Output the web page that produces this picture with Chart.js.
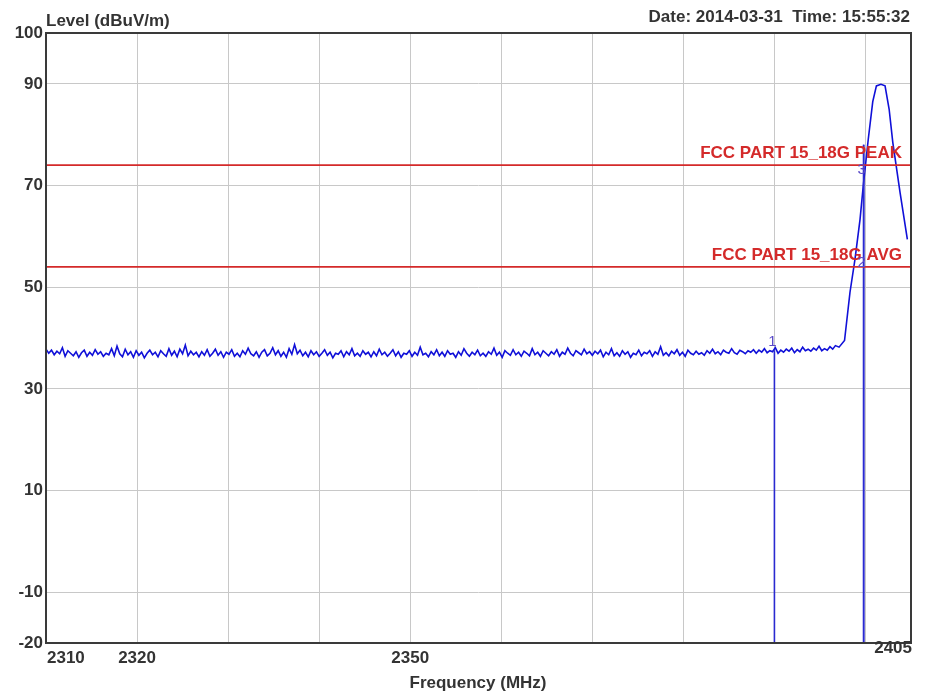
<!DOCTYPE html>
<html>
<head>
<meta charset="utf-8">
<title>Level vs Frequency</title>
<script src="https://cdn.jsdelivr.net/npm/chart.js@4.4.1/dist/chart.umd.min.js"></script>
<style>
  html, body { margin: 0; padding: 0; background: #fff; }
  #wrap { position: relative; width: 932px; height: 697px; }
</style>
</head>
<body>
<div id="wrap"><canvas id="chart"></canvas></div>
<script>
// Sweep: noise floor sampled every 0.3 MHz from 2310 MHz.
const sweepStart = 2310;
const sweepStep = 0.3;
const floorLevels = [
  37.8, 37.0, 37.6, 36.7, 37.4, 36.9, 38.1, 36.4, 37.5, 37.0, 36.5, 37.3, 36.2, 37.1, 37.6, 36.4, 37.2, 36.6, 37.7, 36.8,
  37.3, 36.4, 37.0, 36.7, 37.9, 36.5, 38.4, 36.9, 36.3, 37.8, 36.7, 37.3, 36.2, 37.5, 36.6, 37.2, 36.1, 37.0, 37.6, 36.7,
  37.2, 36.3, 37.5, 36.9, 36.4, 37.9, 36.6, 37.4, 36.3, 37.8, 36.9, 38.6, 36.5, 37.4, 36.7, 37.2, 36.3, 37.3, 36.6, 37.7,
  36.4, 37.0, 37.8, 36.6, 37.3, 36.2, 37.2, 36.8, 37.7, 36.4, 37.0, 36.3, 37.5, 36.8, 38.0, 36.9, 36.5, 37.3, 36.2, 37.2,
  37.7, 36.5, 37.0, 38.1, 36.7, 37.5, 36.4, 37.2, 36.2, 37.9, 36.8, 38.7, 36.9, 37.6, 36.5, 37.2, 36.3, 37.5, 36.7, 37.3,
  36.4, 37.0, 37.7, 36.6, 37.2, 36.1, 37.0, 36.8, 37.5, 36.3, 37.3, 36.7, 37.9, 36.5, 37.0, 36.4, 37.5, 36.8, 37.2, 36.3,
  37.3, 36.5, 37.8, 36.7, 37.2, 36.4, 37.0, 37.7, 36.5, 37.3, 36.2, 37.0, 36.8, 37.5, 36.4, 37.2, 36.6, 38.2, 36.7, 37.0,
  36.3, 37.3, 36.7, 37.7, 36.5, 37.2, 36.4, 37.5, 36.8, 37.0, 36.2, 37.3, 36.6, 37.9, 37.0, 36.4, 37.2, 36.7, 37.6, 36.5,
  37.0, 36.4, 37.3, 36.8, 38.0, 36.6, 37.2, 36.2, 37.5, 37.0, 36.6, 37.7, 36.7, 37.2, 36.4, 37.4, 37.0, 36.5, 37.9, 36.7,
  37.2, 36.4, 37.5, 37.0, 36.5, 37.3, 36.8, 37.7, 36.4, 37.2, 36.8, 38.0, 37.0, 36.5, 37.5, 37.1, 36.7, 37.8, 36.9, 37.3,
  36.6, 37.4, 36.9, 37.6, 36.3, 37.2, 36.7, 37.9, 36.5, 37.1, 36.4, 37.5, 36.8, 37.3, 36.2, 37.0, 36.7, 37.6, 36.5, 37.2,
  36.9, 37.5, 36.4, 37.3, 36.8, 38.3, 36.6, 37.1, 36.5, 37.4, 36.9, 37.7, 36.6, 37.2, 36.4, 37.6, 37.0, 36.7, 37.4, 36.8,
  37.1, 36.6, 37.5, 37.0, 37.8, 36.9, 37.3, 36.7, 37.6, 37.2, 37.0, 37.9, 37.1, 36.8, 37.6, 37.3, 36.9, 37.5, 37.2, 37.7,
  37.0, 37.6, 37.2, 37.9, 37.1, 37.5, 37.3, 38.1, 37.0, 37.6, 37.2, 37.8, 37.4, 38.0, 37.1, 37.7, 37.3, 38.2, 37.5, 37.8,
  37.4, 38.0, 37.6, 38.4, 37.5, 37.9, 37.6, 38.3, 37.8, 38.5,
];

// Carrier edge and peak near 2402 MHz.
const peakFreqs  = [2397.1, 2397.7, 2398.3, 2398.85, 2399.4, 2399.75, 2400.3, 2400.8, 2401.2, 2401.7, 2402.15, 2402.6, 2403.0, 2403.8, 2404.6];
const peakLevels = [38.2,   39.5,   49.0,   55.5,    63.3,   69.8,    79.0,   86.5,   89.6,   89.9,   89.6,    85.0,   78.5,   68.6,   59.4];

// FCC Part 15 limits (dBuV/m).
const limitNames  = ['FCC PART 15_18G PEAK', 'FCC PART 15_18G AVG'];
const limitLevels = [74, 54];

// Markers: frequency, label level, top of the marker line.
const markerNames  = ['1', '2', '3'];
const markerFreqs  = [2390, 2399.8, 2399.8];
const markerLevels = [37.6, 53.2, 71.5];
const markerTops   = [37.6, 78, 78];

const xGridTicks  = [2310, 2320, 2330, 2340, 2350, 2360, 2370, 2380, 2390, 2400, 2405];
const xLabelTicks = [2310, 2320, 2350, 2405];
const yTicks      = [-20, -10, 10, 30, 50, 70, 90, 100];

const FONT = '"Liberation Sans", Arial, sans-serif';
const TEXT = '#333333';
const TRACE = '#1010d8';
const LIMIT = '#d42a2a';

const tracePoints = floorLevels.map((v, i) => ({ x: sweepStart + i * sweepStep, y: v }))
  .concat(peakFreqs.map((f, i) => ({ x: f, y: peakLevels[i] })));

const datasets = [];
limitLevels.forEach((lv) => {
  datasets.push({
    data: [{ x: 2310, y: lv }, { x: 2405, y: lv }],
    borderColor: LIMIT, borderWidth: 1.6, pointRadius: 0,
  });
});
markerFreqs.forEach((f, i) => {
  datasets.push({
    data: [{ x: f, y: -20 }, { x: f, y: markerTops[i] }],
    borderColor: '#2a2ad0', borderWidth: 1.6, pointRadius: 0,
  });
});
datasets.push({
  data: tracePoints,
  borderColor: TRACE, borderWidth: 1.6, pointRadius: 0, tension: 0,
});

// Frame, header texts, x labels, limit captions and marker numbers.
const annotate = {
  id: 'annotate',
  afterDraw(chart) {
    const { ctx, chartArea: a, scales: { x, y } } = chart;
    ctx.save();
    ctx.strokeStyle = '#3a3a3a';
    ctx.lineWidth = 2;
    ctx.strokeRect(a.left, a.top, a.right - a.left, a.bottom - a.top);

    ctx.fillStyle = TEXT;
    ctx.font = 'bold 17px ' + FONT;
    ctx.textBaseline = 'middle';
    ctx.textAlign = 'left';
    ctx.fillText('Level (dBuV/m)', a.left, 21);
    ctx.textAlign = 'right';
    ctx.fillText('Date: 2014-03-31  Time: 15:55:32', 910, 17);

    xLabelTicks.forEach((v, i) => {
      const px = x.getPixelForValue(v);
      if (i === 0) { ctx.textAlign = 'left'; ctx.fillText(String(v), px + 1, 658); }
      else if (i === xLabelTicks.length - 1) { ctx.textAlign = 'right'; ctx.fillText(String(v), px + 1, 648); }
      else { ctx.textAlign = 'center'; ctx.fillText(String(v), px, 658); }
    });
    ctx.textAlign = 'center';
    ctx.fillText('Frequency (MHz)', 478, 683);

    ctx.fillStyle = LIMIT;
    ctx.font = 'bold 17px ' + FONT;
    ctx.textAlign = 'right';
    ctx.textBaseline = 'alphabetic';
    limitNames.forEach((n, i) => {
      ctx.fillText(n, 902, y.getPixelForValue(limitLevels[i]) - 7);
    });

    ctx.fillStyle = '#5a4ac8';
    ctx.font = '15px ' + FONT;
    ctx.textAlign = 'center';
    ctx.textBaseline = 'bottom';
    markerNames.forEach((n, i) => {
      ctx.fillText(n, x.getPixelForValue(markerFreqs[i]) - 2, y.getPixelForValue(markerLevels[i]) - 1);
    });
    ctx.restore();
  },
};

new Chart(document.getElementById('chart'), {
  type: 'line',
  data: { datasets },
  plugins: [annotate],
  options: {
    responsive: true,
    maintainAspectRatio: false,
    animation: false,
    parsing: false,
    layout: { padding: { top: 33, right: 21, left: 0, bottom: 0 } },
    plugins: { legend: { display: false }, tooltip: { enabled: false } },
    scales: {
      x: {
        type: 'linear', min: 2310, max: 2405,
        afterBuildTicks: (s) => { s.ticks = xGridTicks.map((v) => ({ value: v })); },
        afterFit: (s) => { s.height = 54; },
        ticks: { display: false },
        grid: { color: '#c8c8c8', lineWidth: 1, drawTicks: false },
        border: { display: false },
      },
      y: {
        type: 'linear', min: -20, max: 100,
        afterBuildTicks: (s) => { s.ticks = yTicks.map((v) => ({ value: v })); },
        afterFit: (s) => { s.width = 46; },
        ticks: { color: TEXT, font: { family: FONT, size: 17, weight: 'bold' }, padding: 3, autoSkip: false },
        grid: { color: '#c8c8c8', lineWidth: 1, drawTicks: false },
        border: { display: false },
      },
    },
  },
});
</script>
</body>
</html>
